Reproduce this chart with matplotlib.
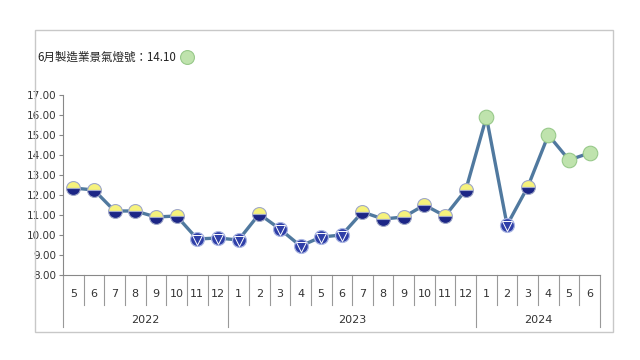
import matplotlib
matplotlib.use('Agg')
import matplotlib.pyplot as plt
from matplotlib.patches import Rectangle
from matplotlib.lines import Line2D

# data
months = ['5', '6', '7', '8', '9', '10', '11', '12',
          '1', '2', '3', '4', '5', '6', '7', '8', '9', '10', '11', '12',
          '1', '2', '3', '4', '5', '6']
years = ['2022', '2023', '2024']
year_spans = [(0, 8), (8, 20), (20, 26)]
scores = [12.35, 12.25, 11.2, 11.2, 10.9, 10.95, 9.8, 9.85,
          9.75, 11.05, 10.3, 9.45, 9.9, 10.0, 11.15, 10.8, 10.9, 11.5, 10.95, 12.25,
          15.9, 10.5, 12.4, 15.0, 13.75, 14.1]
# signal: 'yb' yellow-blue, 'b' blue, 'g' green
signals = ['yb', 'yb', 'yb', 'yb', 'yb', 'yb', 'b', 'b',
           'b', 'yb', 'b', 'b', 'b', 'b', 'yb', 'yb', 'yb', 'yb', 'yb', 'yb',
           'g', 'b', 'yb', 'g', 'g', 'g']
title = '6月製造業景氣燈號：14.10'

LINE = '#50799f'
YEL = '#f6f27c'
DBLUE = '#1c2686'
BLUE = '#2f3fa8'
GREEN = '#bfe3ad'
GEDGE = '#98c98a'

num_font = ['Liberation Sans Narrow', 'DejaVu Sans']

fig = plt.figure(figsize=(6.4, 3.6), dpi=100)
ax = fig.add_axes([63/640, 1-275/360, 537/640, 180/360])

x = list(range(len(scores)))
ax.plot(x, scores, color=LINE, lw=2.4, zorder=2)

for i, (v, s) in enumerate(zip(scores, signals)):
    if s == 'yb':
        ax.plot(i, v, 'o', ms=10, fillstyle='top', markerfacecolor=YEL,
                markerfacecoloralt=DBLUE, markeredgecolor='#a0a8c8', mew=0.8, zorder=3)
    elif s == 'b':
        ax.plot(i, v, 'o', ms=10, markerfacecolor=BLUE,
                markeredgecolor='#aab6e2', mew=0.9, zorder=3)
        ax.plot(i, v - 0.05, 'v', ms=6.5, markerfacecolor=BLUE,
                markeredgecolor='white', mew=0.7, zorder=4)
    else:
        ax.plot(i, v, 'o', ms=10.5, markerfacecolor=GREEN,
                markeredgecolor=GEDGE, mew=0.8, zorder=3)

ax.set_xlim(-0.5, len(scores) - 0.5)
ax.set_ylim(8, 17)
ax.set_yticks([8, 9, 10, 11, 12, 13, 14, 15, 16, 17])
ax.set_yticklabels([f'{t:.2f}' for t in range(8, 18)], fontsize=7.5, family=num_font,
                   color='#333333')
ax.set_xticks([])
ax.tick_params(axis='y', length=3, color='#888888', pad=2)
for sp in ['top', 'right']:
    ax.spines[sp].set_visible(False)
ax.spines['left'].set_color('#888888')
ax.spines['bottom'].set_color('#888888')

# multi level category axis
for i in range(len(scores) + 1):
    bottom = -0.167
    if any(i == a or i == b for a, b in year_spans):
        bottom = -0.29
    ax.add_line(Line2D([i - 0.5, i - 0.5], [0, bottom], transform=ax.get_xaxis_transform(),
                       color='#999999', lw=0.8, clip_on=False))
for i, m in enumerate(months):
    ax.text(i, -0.105, m, transform=ax.get_xaxis_transform(), ha='center', va='center',
            fontsize=8, family=num_font, color='#333333')
for yr, (a, b) in zip(years, year_spans):
    ax.text((a + b - 1) / 2, -0.25, yr, transform=ax.get_xaxis_transform(), ha='center',
            va='center', fontsize=8, family=num_font, color='#333333')

# outer frame
fig.add_artist(Rectangle((35/640, 1-332/360), 578/640, 302/360, transform=fig.transFigure,
                         fill=False, edgecolor='#c8c8c8', lw=1))

fig.text(37/640, 1-57/360, title, ha='left', va='center', fontsize=8.3,
         family=['Noto Sans CJK TC', 'DejaVu Sans'], color='#222222')
fig.add_artist(Line2D([187/640], [1-57/360], marker='o', ms=10, markerfacecolor=GREEN,
                      markeredgecolor=GEDGE, mew=0.8, transform=fig.transFigure))

fig.savefig('out.png', dpi=100)
